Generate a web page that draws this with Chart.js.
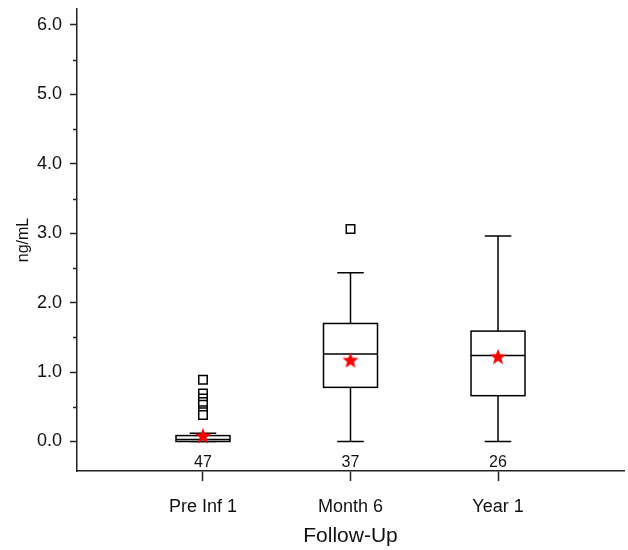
<!DOCTYPE html>
<html>
<head>
<meta charset="utf-8">
<script src="https://cdn.jsdelivr.net/npm/chart.js@4.4.1/dist/chart.umd.min.js"></script>
<style>
  html, body { margin: 0; padding: 0; background: #fff; }
  #wrap { width: 628px; height: 550px; }
</style>
</head>
<body>
<div id="wrap"><canvas id="boxChart" width="628" height="550"></canvas></div>
<script>
// Data
const categories = ['Pre Inf 1', 'Month 6', 'Year 1'];
const counts = [47, 37, 26];
const whiskerLow = [0.0, 0.0, 0.0];
const q1 = [0.0, 0.78, 0.66];
const medians = [0.03, 1.26, 1.24];
const q3 = [0.085, 1.70, 1.59];
const whiskerHigh = [0.12, 2.43, 2.96];
const means = [0.08, 1.17, 1.22];
const outliers = [
    [0.89, 0.69, 0.62, 0.57, 0.53, 0.45, 0.42, 0.38],
    [3.06],
    []
];
const yTicks = [0, 1, 2, 3, 4, 5, 6];
const yMinorTicks = [0.5, 1.5, 2.5, 3.5, 4.5, 5.5];

// Theme
const COLORS = {
    axis: '#222222',
    box: '#000000',
    text: '#111111',
    mean: '#ff0000'
};
const FONT = "'Liberation Sans', Arial, sans-serif";
const BOX_HALF = 0.183;   // half box width in x units
const CAP_HALF = 0.09;    // half whisker cap width
const COUNT_Y = -0.305;   // where the n labels sit

// Red filled star used as point style for the means
function makeStar(size, color) {
    const c = document.createElement('canvas');
    c.width = size; c.height = size;
    const g = c.getContext('2d');
    const cx = size / 2, cy = size / 2 + 0.5;
    const outer = size / 2 - 0.5, inner = outer * 0.42;
    g.beginPath();
    for (let i = 0; i < 10; i++) {
        const r = i % 2 === 0 ? outer : inner;
        const a = -Math.PI / 2 + i * Math.PI / 5;
        const px = cx + r * Math.cos(a), py = cy + r * Math.sin(a);
        if (i === 0) g.moveTo(px, py); else g.lineTo(px, py);
    }
    g.closePath();
    g.fillStyle = color;
    g.fill();
    return c;
}

const boxPlugin = {
    id: 'boxes',
    beforeDatasetsDraw(chart) {
        const { ctx, scales: { x, y } } = chart;
        ctx.save();
        ctx.strokeStyle = COLORS.box;
        ctx.lineWidth = 1.5;
        categories.forEach((c, i) => {
            const pos = i + 1;
            const cx = x.getPixelForValue(pos);
            const bl = x.getPixelForValue(pos - BOX_HALF);
            const br = x.getPixelForValue(pos + BOX_HALF);
            const cl = x.getPixelForValue(pos - CAP_HALF);
            const cr = x.getPixelForValue(pos + CAP_HALF);
            const yq1 = y.getPixelForValue(q1[i]);
            const yq3 = y.getPixelForValue(q3[i]);
            const ymed = y.getPixelForValue(medians[i]);
            const ylo = y.getPixelForValue(whiskerLow[i]);
            const yhi = y.getPixelForValue(whiskerHigh[i]);

            ctx.beginPath();
            // whiskers
            ctx.moveTo(cx, yq3); ctx.lineTo(cx, yhi);
            ctx.moveTo(cx, yq1); ctx.lineTo(cx, ylo);
            // caps
            ctx.moveTo(cl, yhi); ctx.lineTo(cr, yhi);
            ctx.moveTo(cl, ylo); ctx.lineTo(cr, ylo);
            ctx.stroke();

            // box
            ctx.fillStyle = '#fff';
            ctx.fillRect(bl, yq3, br - bl, yq1 - yq3);
            ctx.strokeRect(bl, yq3, br - bl, yq1 - yq3);

            // median
            ctx.beginPath();
            ctx.moveTo(bl, ymed); ctx.lineTo(br, ymed);
            ctx.stroke();
        });
        ctx.restore();
    },
    afterDraw(chart) {
        const { ctx, scales: { x, y } } = chart;
        ctx.save();
        // n labels
        ctx.fillStyle = COLORS.text;
        ctx.font = '16px ' + FONT;
        ctx.textAlign = 'center';
        ctx.textBaseline = 'middle';
        counts.forEach((n, i) => {
            ctx.fillText(String(n), x.getPixelForValue(i + 1), y.getPixelForValue(COUNT_Y));
        });
        // minor y ticks
        ctx.strokeStyle = COLORS.axis;
        ctx.lineWidth = 1.5;
        ctx.beginPath();
        yMinorTicks.forEach(v => {
            const py = Math.round(y.getPixelForValue(v)) + 0.5;
            ctx.moveTo(x.left - 4, py); ctx.lineTo(x.left, py);
        });
        ctx.stroke();
        ctx.restore();
    }
};

const outlierPoints = [];
outliers.forEach((list, i) => list.forEach(v => outlierPoints.push({ x: i + 1, y: v })));
const meanPoints = means.map((v, i) => ({ x: i + 1, y: v }));

const ctx = document.getElementById('boxChart').getContext('2d');
new Chart(ctx, {
    type: 'scatter',
    data: {
        datasets: [
            {
                label: 'Outliers',
                data: outlierPoints,
                pointStyle: 'rect',
                radius: 6,
                backgroundColor: '#fff',
                borderColor: COLORS.box,
                borderWidth: 1.5
            },
            {
                label: 'Mean',
                data: meanPoints,
                pointStyle: makeStar(18, COLORS.mean),
                radius: 8
            }
        ]
    },
    options: {
        responsive: false,
        animation: false,
        events: [],
        layout: { autoPadding: false, padding: { top: 9, right: 4, left: 0, bottom: 0 } },
        plugins: { legend: { display: false }, tooltip: { enabled: false } },
        scales: {
            x: {
                type: 'linear',
                min: 0.146,
                max: 3.854,
                afterFit: s => { s.height = 79; s.paddingLeft = 0; s.paddingRight = 0; },
                afterBuildTicks: s => { s.ticks = categories.map((c, i) => ({ value: i + 1 })); },
                grid: { drawOnChartArea: false, tickLength: 10, tickColor: COLORS.axis, tickWidth: 1.5 },
                border: { color: COLORS.axis, width: 1.5 },
                ticks: {
                    color: COLORS.text,
                    font: { family: FONT, size: 18 },
                    padding: 15,
                    maxRotation: 0,
                    callback: v => categories[Math.round(v) - 1]
                },
                title: {
                    display: true,
                    text: 'Follow-Up',
                    color: COLORS.text,
                    font: { family: FONT, size: 21 },
                    padding: { top: 0, bottom: 1 }
                }
            },
            y: {
                type: 'linear',
                min: -0.425,
                max: 6.23,
                afterFit: s => { s.width = 77; s.paddingTop = 0; s.paddingBottom = 0; },
                afterBuildTicks: s => { s.ticks = yTicks.map(v => ({ value: v })); },
                grid: { drawOnChartArea: false, tickLength: 7, tickColor: COLORS.axis, tickWidth: 1.5 },
                border: { color: COLORS.axis, width: 1.5 },
                ticks: {
                    color: COLORS.text,
                    font: { family: FONT, size: 18 },
                    padding: 8,
                    callback: v => v.toFixed(1)
                },
                title: {
                    display: true,
                    text: 'ng/mL',
                    color: COLORS.text,
                    font: { family: FONT, size: 16 },
                    padding: { top: 14, bottom: 0 }
                }
            }
        }
    },
    plugins: [boxPlugin]
});
</script>
</body>
</html>
